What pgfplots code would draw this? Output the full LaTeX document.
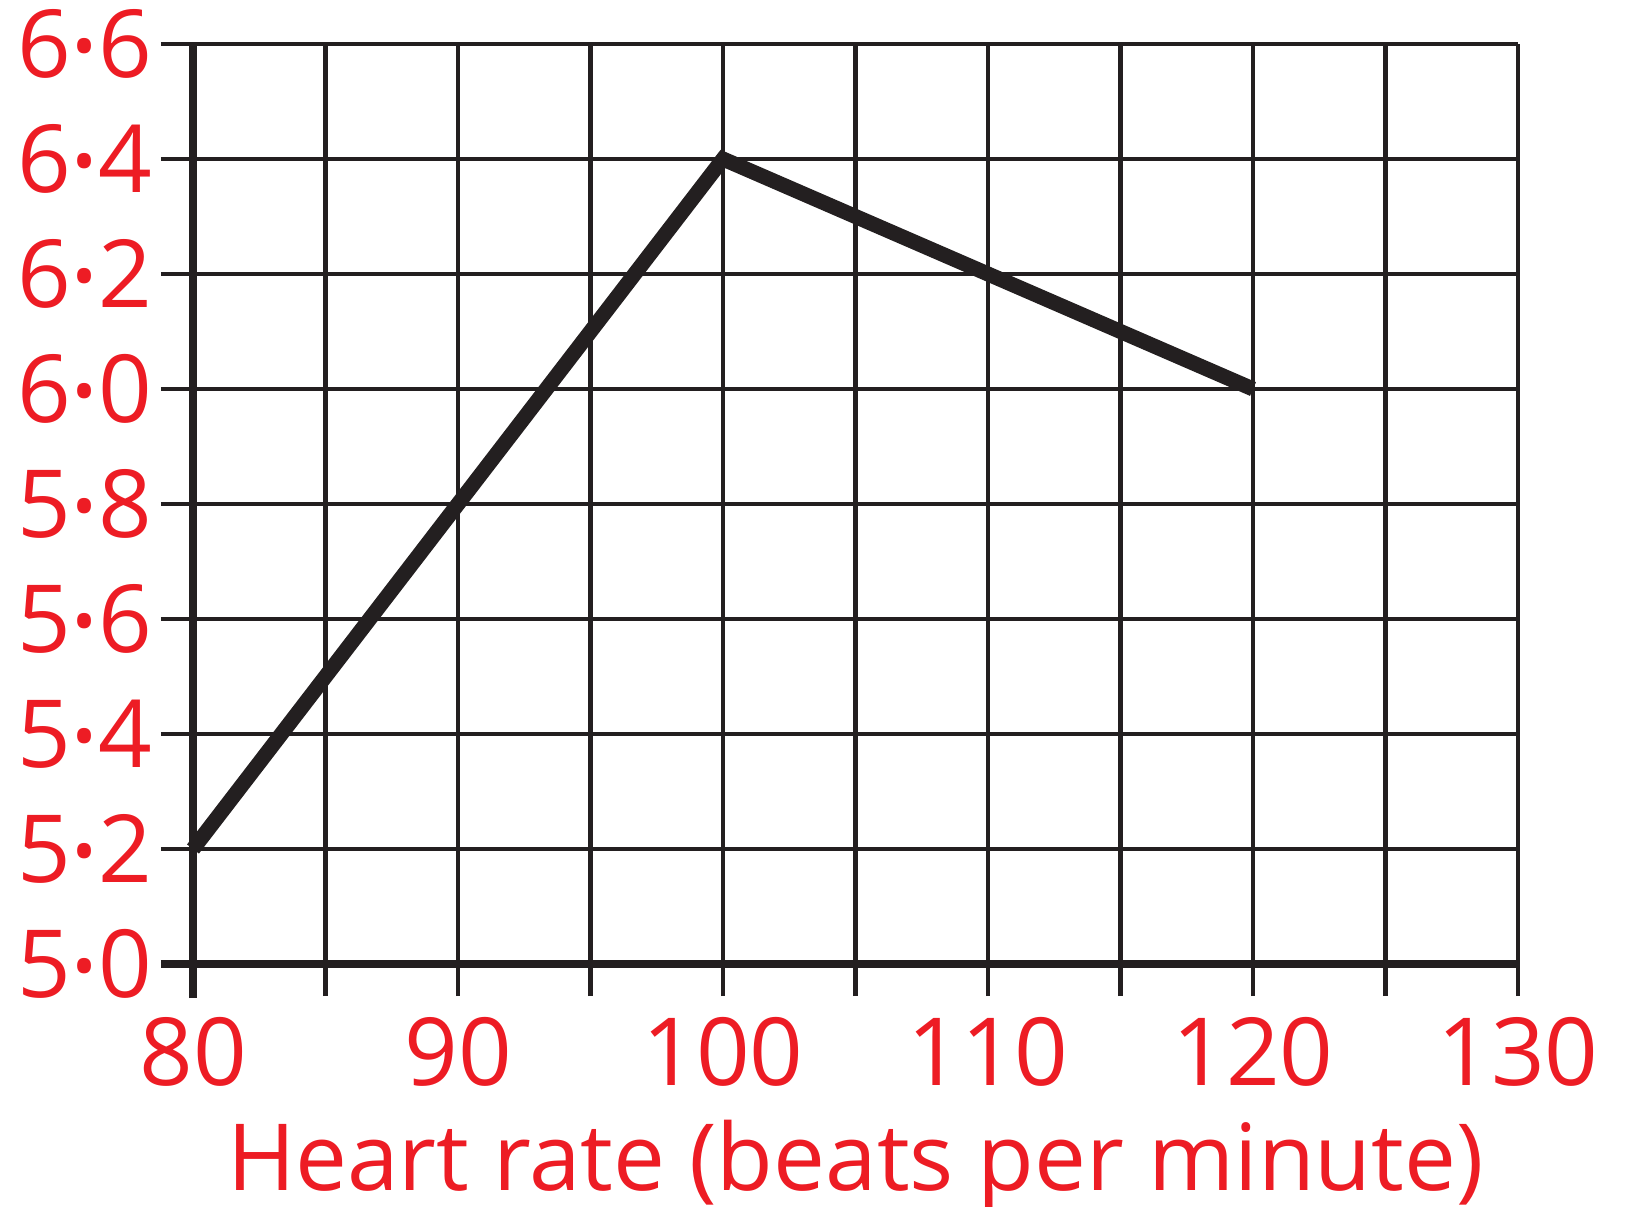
\documentclass[border=0pt]{standalone}
\usepackage{pgfplots}
\pgfplotsset{compat=1.18}
\usepackage{fontspec}
\setmainfont{Open Sans}
\definecolor{lred}{HTML}{ED1C24}
\definecolor{lblack}{HTML}{231F20}
\newcommand\dd{\makebox[14pt]{\raisebox{4pt}{\fontsize{32}{32}\selectfont •}}}
\begin{document}
\begin{tikzpicture}
\begin{axis}[
  at={(0,0)}, anchor=south west,
  scale only axis, width=662.5pt, height=460pt,
  xmin=80, xmax=130, ymin=5.0, ymax=6.6,
  xtick={80,85,90,95,100,105,110,115,120,125,130},
  xticklabels={80,,90,,100,,110,,120,,130},
  ytick={5.0,5.2,5.4,5.6,5.8,6.0,6.2,6.4,6.6},
  yticklabels={{5\dd0},{5\dd2},{5\dd4},{5\dd6},{5\dd8},{6\dd0},{6\dd2},{6\dd4},{6\dd6}},
  axis lines=left,
  axis line style={-, line width=4pt, color=lblack},
  x axis line style={shorten <=-16pt},
  y axis line style={shorten <=-17pt},
  grid=major,
  major grid style={line width=2.2pt, color=lblack},
  tick align=outside, major tick length=16pt,
  tick style={line width=2.2pt, color=lblack},
  xticklabel style={font=\fontsize{47}{47}\selectfont, text=lred, inner sep=0pt, yshift=-10.5pt},
  yticklabel style={font=\fontsize{47}{47}\selectfont, text=lred, inner sep=0pt, xshift=-4pt},
  xlabel={Heart rate (beats per minute)},
  xlabel style={font=\fontsize{46.3}{46.3}\selectfont, text=lred, inner sep=0pt,
    at={(axis description cs:0.5,0)}, anchor=base, yshift=-113pt},
  clip=false,
]
\addplot[color=lblack, line width=7.5pt, line join=miter] coordinates {(80,5.2) (100,6.4) (120,6.0)};
\end{axis}
\pgfresetboundingbox
\path (-96.5pt,-121pt) rectangle (727pt,482pt);
\end{tikzpicture}
\end{document}
